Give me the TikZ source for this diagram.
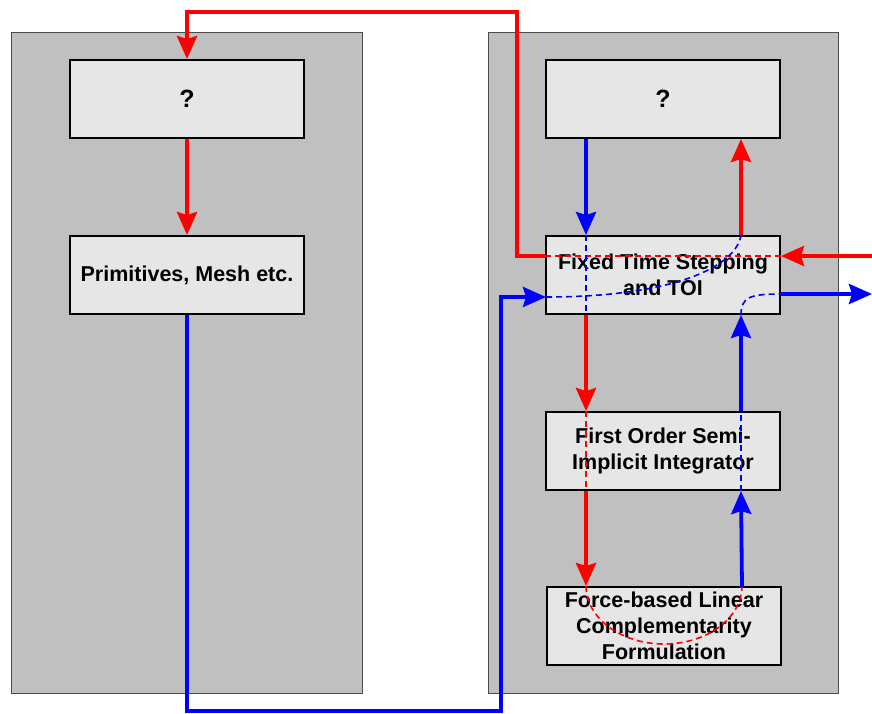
\documentclass[tikz,border=0pt]{standalone}
\usepackage{fontspec}
\setmainfont{Liberation Sans}
\usetikzlibrary{arrows.meta}
\definecolor{panelgray}{HTML}{C0C0C0}
\definecolor{boxgray}{HTML}{E6E6E6}
\definecolor{flowred}{HTML}{FF0000}
\definecolor{flowblue}{HTML}{0000FF}
\tikzset{
  panel/.style={draw=black!70, line width=1pt, fill=panelgray},
  stage/.style={draw=black, line width=2pt, fill=boxgray, minimum width=234pt,
    minimum height=78pt, inner sep=0pt, align=center,
    font=\fontsize{21.5}{26}\selectfont\bfseries},
  qmark/.style={stage, font=\fontsize{25}{30}\selectfont\bfseries},
  tip/.style={-{Stealth[length=23pt,width=20pt,inset=3pt]}},
  redflow/.style={draw=flowred, line width=3.8pt},
  blueflow/.style={draw=flowblue, line width=3.8pt},
  reddash/.style={draw=flowred, line width=1.6pt, dash pattern=on 6pt off 4pt},
  bluedash/.style={draw=flowblue, line width=1.6pt, dash pattern=on 6pt off 4pt},
}
\begin{document}
\begin{tikzpicture}[x=1pt, y=-1pt]
\useasboundingbox (0,0) rectangle (872,713);
% two grey panels
\draw[panel] (11,32) rectangle (362,693);
\draw[panel] (488,32) rectangle (838,693);
% left column
\node[qmark] (qleft) at (187,99) {?};
\node[stage] (prim) at (187,275) {Primitives, Mesh etc.};
% right column
\node[qmark] (qright) at (663,99) {?};
\node[stage] (fixed) at (663,275) {Fixed Time Stepping\\and TOI};
\node[stage] (first) at (663,451) {First Order Semi-\\Implicit Integrator};
\node[stage] (force) at (664,626) {Force-based Linear\\Complementarity\\Formulation};

% helper coordinates for the routed connectors
\coordinate (redin) at (872,256);
\coordinate (redturn) at (517,12);
\coordinate (blueturn) at (501,711);
\coordinate (blueout) at (872,294);
\coordinate (bluein) at (546,297);
\coordinate (colA) at (586,0);
\coordinate (colB) at (741,0);

% red flow
\draw[redflow, tip] (redin) -- (fixed.east |- redin);
\draw[reddash] (fixed.east |- redin) -- (fixed.west |- redin);
\draw[redflow, tip] (fixed.west |- redin) -| (redturn) -| (qleft.north);
\draw[redflow, tip] (qleft.south) -- (prim.north);
\draw[redflow, tip] (fixed.north -| colB) -- (qright.south -| colB);
\draw[redflow, tip] (fixed.south -| colA) -- (first.north -| colA);
\draw[reddash] (first.north -| colA) -- (first.south -| colA);
\draw[redflow, tip] (first.south -| colA) -- (force.north -| colA);
\draw[reddash] (force.north -| colA) arc[start angle=180, end angle=360, x radius=78pt, y radius=58pt];

% blue flow
\draw[blueflow, tip] (prim.south) |- (blueturn) |- (bluein);
\draw[bluedash] (bluein) .. controls (670,297) and (736,268) .. (fixed.north -| colB);
\draw[blueflow, tip] (qright.south -| colA) -- (fixed.north -| colA);
\draw[bluedash] (fixed.north -| colA) -- (fixed.south -| colA);
\draw[blueflow, tip] (742,587) -- (first.south -| colB);
\draw[bluedash] (first.south -| colB) -- (first.north -| colB);
\draw[blueflow, tip] (first.north -| colB) -- (fixed.south -| colB);
\draw[bluedash] (fixed.south -| colB) .. controls (741,297) and (750,294) .. (fixed.east |- blueout);
\draw[blueflow, tip] (fixed.east |- blueout) -- (blueout);
\end{tikzpicture}
\end{document}
